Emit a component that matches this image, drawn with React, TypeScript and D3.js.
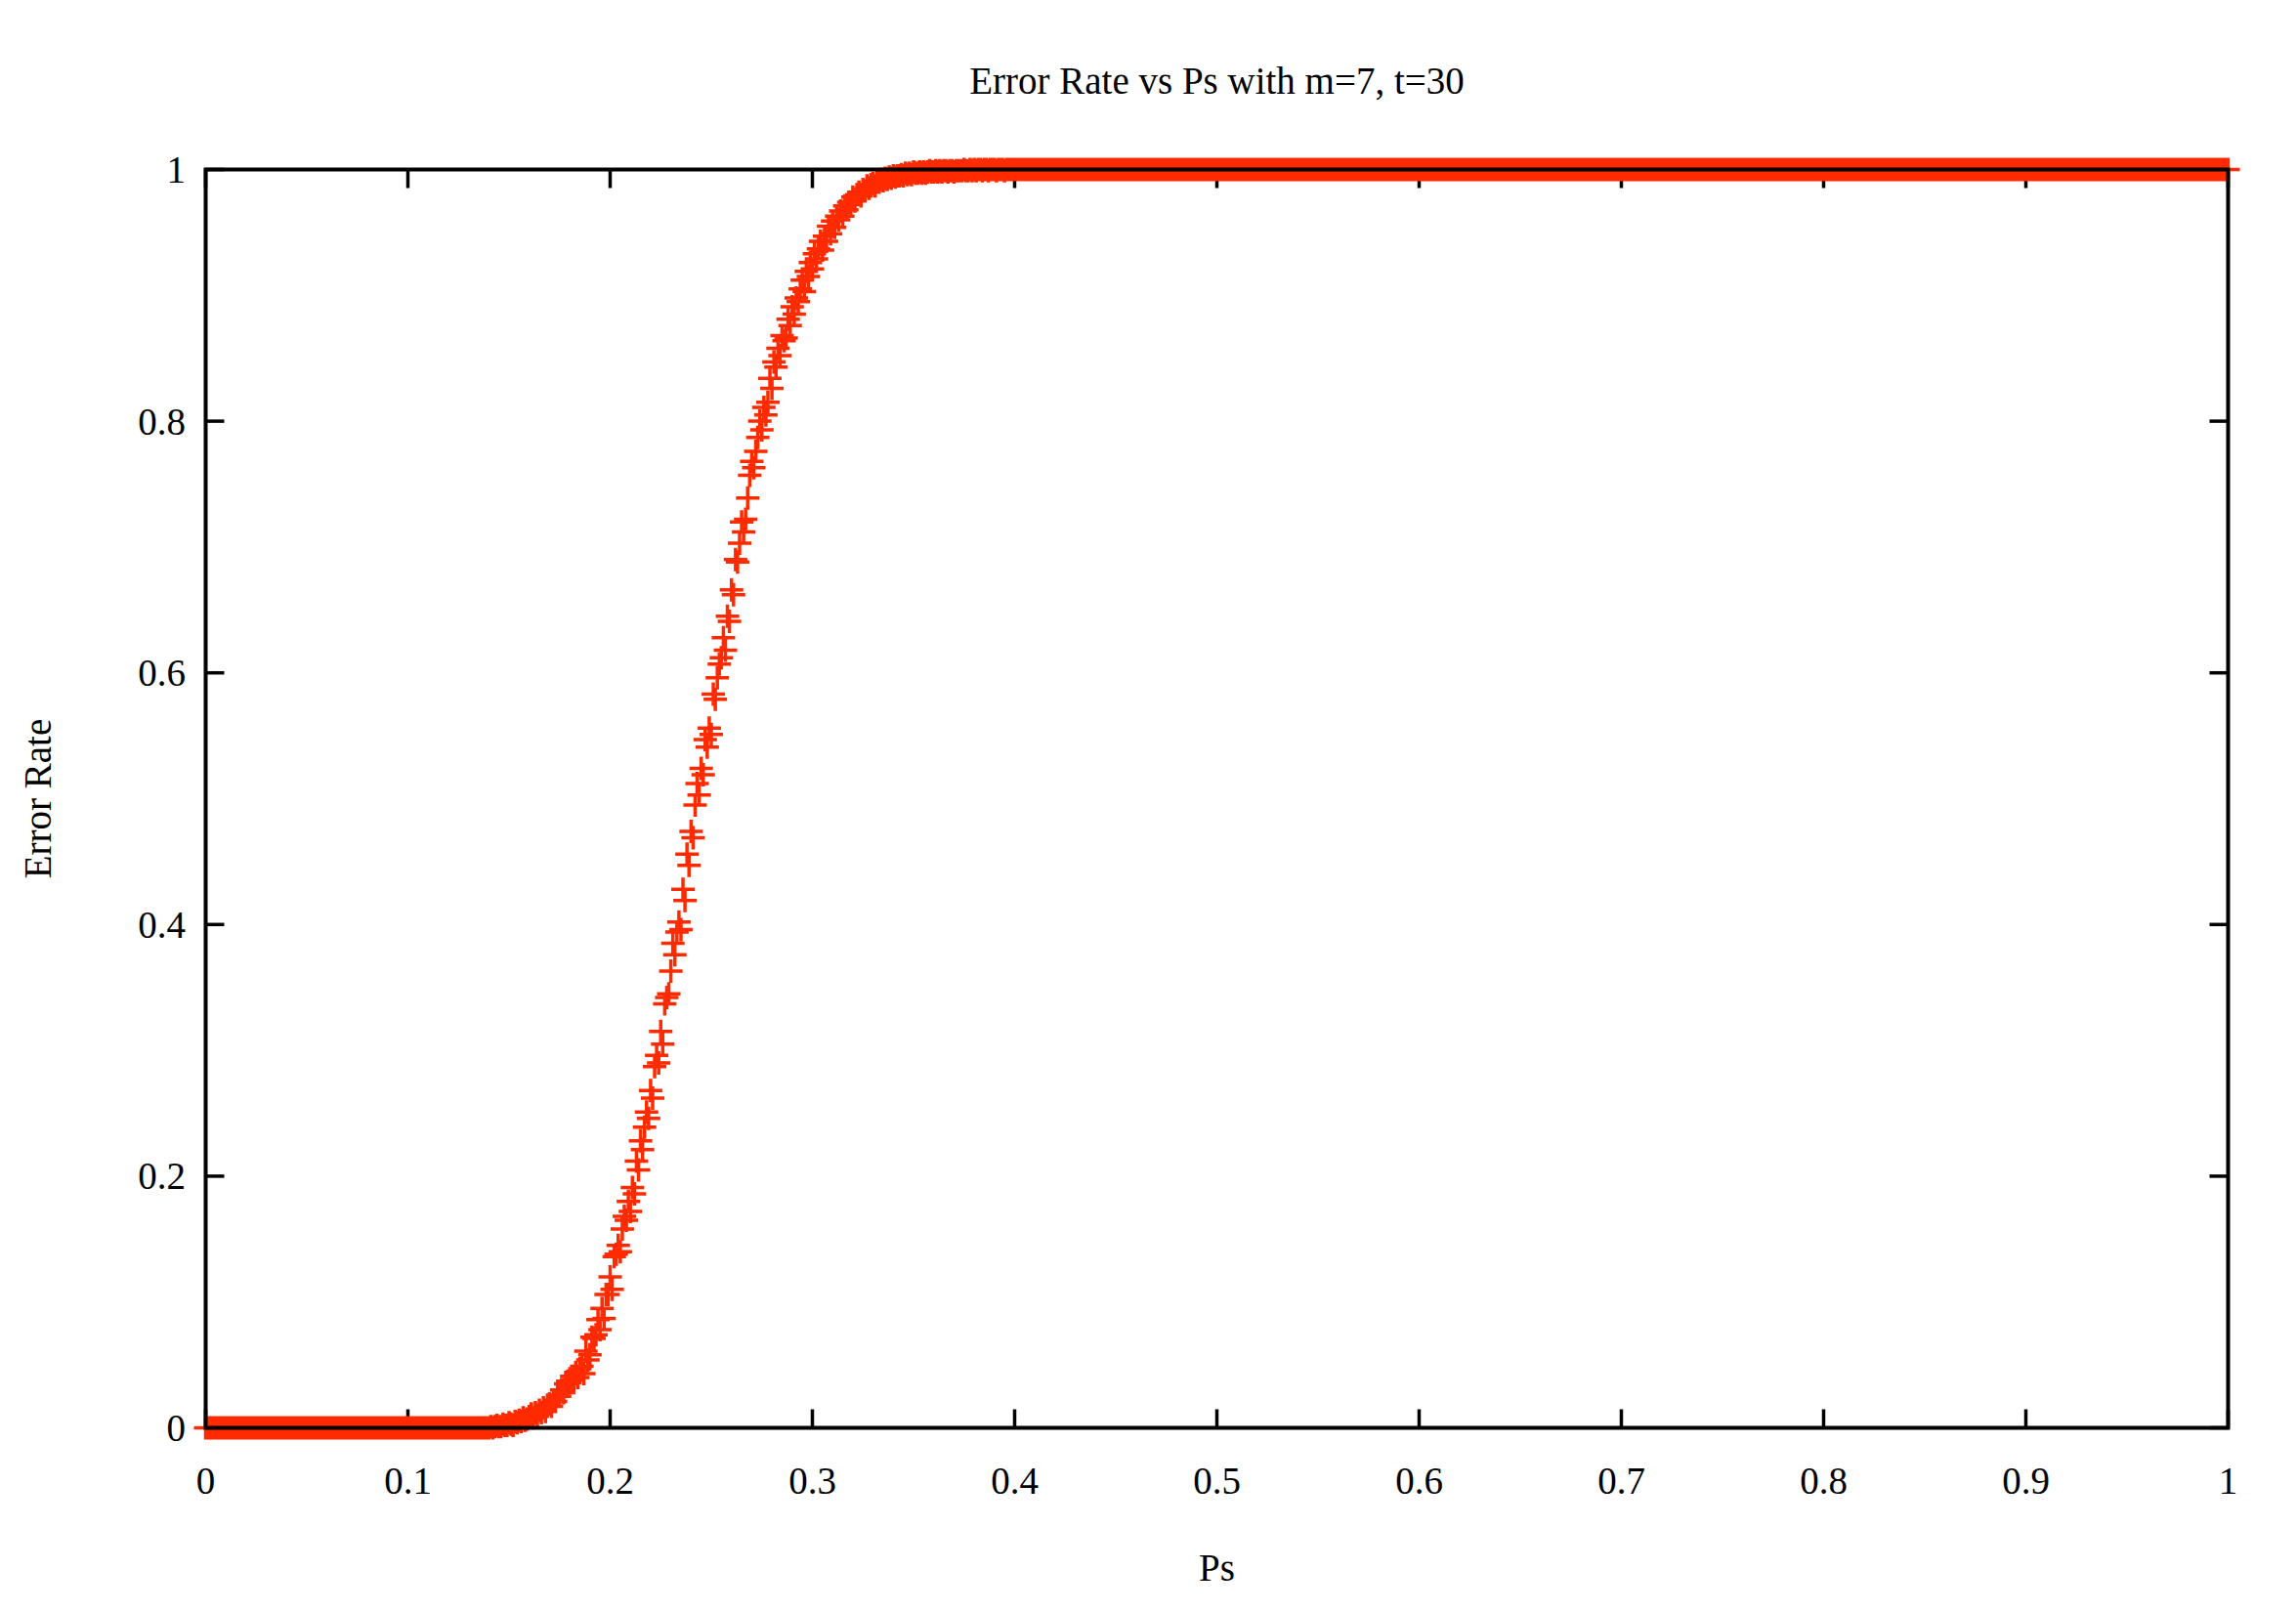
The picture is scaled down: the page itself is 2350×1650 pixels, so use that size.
import React from "react";
import * as d3 from "d3";

// ---- Data ----
const titleText = "Error Rate vs Ps with m=7, t=30";
const xLabel = "Ps";
const yLabel = "Error Rate";
const xTicks = [0, 0.1, 0.2, 0.3, 0.4, 0.5, 0.6, 0.7, 0.8, 0.9, 1];
const yTicks = [0, 0.2, 0.4, 0.6, 0.8, 1];

// Ps is sampled on a regular grid of 0.001 from 0 to 1
const psStep = 0.001;

// Error rate for Ps = 0.000 .. 0.139 (140 samples)
const errLow = [
  0,0,0,0,0,0,0,0,0,0,0,0,0,0,0,0,0,0,0,0,
  0,0,0,0,0,0,0,0,0,0,0,0,0,0,0,0,0,0,0,0,
  0,0,0,0,0,0,0,0,0,0,0,0,0,0,0,0,0,0,0,0,
  0,0,0,0,0,0,0,0,0,0,0,0,0,0,0,0,0,0,0,0,
  0,0,0,0,0,0,0,0,0,0,0,0,0,0,0,0,0,0,0,0,
  0,0,0,0,0,0,0,0,0,0,0,0,0,0,0,0,0,0,0,0,
  0,0,0,0,0,0,0,0,0,0,0,0,0,0,0,0,0,0,0,0,
];

// Error rate for Ps = 0.140 .. 0.400 (261 samples)
const errTransition = [
  0, 0.001, 0, 0.001, 0.002, 0.001, 0.001, 0.003, 0.002, 0.002,
  0.004, 0.003, 0.002, 0.005, 0.004, 0.006, 0.005, 0.008, 0.006, 0.007,
  0.009, 0.011, 0.008, 0.012, 0.010, 0.014, 0.012, 0.016, 0.013, 0.017,
  0.019, 0.017, 0.022, 0.021, 0.026, 0.025, 0.030, 0.028, 0.035, 0.037,
  0.036, 0.041, 0.038,
  0.044, 0.040, 0.047, 0.049, 0.043, 0.061, 0.054, 0.058, 0.072, 0.071,
  0.074, 0.086, 0.078, 0.095, 0.087, 0.106, 0.106, 0.120, 0.110, 0.136,
  0.138, 0.145, 0.140, 0.158, 0.168, 0.165, 0.180, 0.172, 0.191, 0.186,
  0.212, 0.205, 0.228, 0.221, 0.239, 0.251, 0.246, 0.268, 0.262, 0.287,
  0.296, 0.290, 0.315, 0.305, 0.337, 0.342, 0.345, 0.363, 0.385, 0.376,
  0.394, 0.402, 0.396, 0.428, 0.419, 0.456, 0.447, 0.474, 0.469, 0.495,
  0.512, 0.503, 0.524, 0.519, 0.547, 0.541, 0.556, 0.551, 0.583, 0.579,
  0.596, 0.607, 0.612, 0.628, 0.618, 0.645, 0.641, 0.666, 0.662, 0.690,
  0.688, 0.703, 0.720, 0.712, 0.722, 0.739, 0.757, 0.768, 0.763, 0.776,
  0.787, 0.800, 0.793, 0.811, 0.805, 0.815, 0.834, 0.826, 0.847, 0.843,
  0.858, 0.852, 0.868, 0.864, 0.866, 0.881, 0.876, 0.891, 0.885, 0.898,
  0.895, 0.905, 0.912, 0.903, 0.919, 0.915, 0.926, 0.921, 0.933, 0.929,
  0.937, 0.943, 0.936, 0.947, 0.943, 0.955, 0.949, 0.959, 0.954, 0.963,
  0.960, 0.967, 0.963, 0.971, 0.968, 0.974, 0.972, 0.978, 0.975, 0.980,
  0.982, 0.979, 0.984, 0.983, 0.987, 0.985, 0.988, 0.989, 0.987, 0.990,
  0.990, 0.992, 0.991, 0.993, 0.992, 0.994, 0.993, 0.995, 0.994, 0.995,
  0.995, 0.996, 0.995, 0.997, 0.996, 0.997, 0.996, 0.998, 0.997, 0.997,
  0.998, 0.997, 0.998, 0.997, 0.998, 0.999, 0.998, 0.998, 0.999, 0.998,
  0.999, 0.998, 0.999, 0.999, 0.998, 0.999, 0.999, 0.998, 0.999, 0.999,
  0.999, 0.999, 1, 0.999, 0.999, 1, 0.999, 1, 0.999, 1,
  1, 0.999, 1, 1, 0.999, 1, 1, 1, 0.999, 1,
  1, 1, 0.999, 1, 1, 1, 1, 1,
];

// Error rate for Ps = 0.401 .. 1.000 (600 samples)
const errHigh = [
  1,1,1,1,1,1,1,1,1,1,1,1,1,1,1,1,1,1,1,1,
  1,1,1,1,1,1,1,1,1,1,1,1,1,1,1,1,1,1,1,1,
  1,1,1,1,1,1,1,1,1,1,1,1,1,1,1,1,1,1,1,1,
  1,1,1,1,1,1,1,1,1,1,1,1,1,1,1,1,1,1,1,1,
  1,1,1,1,1,1,1,1,1,1,1,1,1,1,1,1,1,1,1,1,
  1,1,1,1,1,1,1,1,1,1,1,1,1,1,1,1,1,1,1,1,
  1,1,1,1,1,1,1,1,1,1,1,1,1,1,1,1,1,1,1,1,
  1,1,1,1,1,1,1,1,1,1,1,1,1,1,1,1,1,1,1,1,
  1,1,1,1,1,1,1,1,1,1,1,1,1,1,1,1,1,1,1,1,
  1,1,1,1,1,1,1,1,1,1,1,1,1,1,1,1,1,1,1,1,
  1,1,1,1,1,1,1,1,1,1,1,1,1,1,1,1,1,1,1,1,
  1,1,1,1,1,1,1,1,1,1,1,1,1,1,1,1,1,1,1,1,
  1,1,1,1,1,1,1,1,1,1,1,1,1,1,1,1,1,1,1,1,
  1,1,1,1,1,1,1,1,1,1,1,1,1,1,1,1,1,1,1,1,
  1,1,1,1,1,1,1,1,1,1,1,1,1,1,1,1,1,1,1,1,
  1,1,1,1,1,1,1,1,1,1,1,1,1,1,1,1,1,1,1,1,
  1,1,1,1,1,1,1,1,1,1,1,1,1,1,1,1,1,1,1,1,
  1,1,1,1,1,1,1,1,1,1,1,1,1,1,1,1,1,1,1,1,
  1,1,1,1,1,1,1,1,1,1,1,1,1,1,1,1,1,1,1,1,
  1,1,1,1,1,1,1,1,1,1,1,1,1,1,1,1,1,1,1,1,
  1,1,1,1,1,1,1,1,1,1,1,1,1,1,1,1,1,1,1,1,
  1,1,1,1,1,1,1,1,1,1,1,1,1,1,1,1,1,1,1,1,
  1,1,1,1,1,1,1,1,1,1,1,1,1,1,1,1,1,1,1,1,
  1,1,1,1,1,1,1,1,1,1,1,1,1,1,1,1,1,1,1,1,
  1,1,1,1,1,1,1,1,1,1,1,1,1,1,1,1,1,1,1,1,
  1,1,1,1,1,1,1,1,1,1,1,1,1,1,1,1,1,1,1,1,
  1,1,1,1,1,1,1,1,1,1,1,1,1,1,1,1,1,1,1,1,
  1,1,1,1,1,1,1,1,1,1,1,1,1,1,1,1,1,1,1,1,
  1,1,1,1,1,1,1,1,1,1,1,1,1,1,1,1,1,1,1,1,
  1,1,1,1,1,1,1,1,1,1,1,1,1,1,1,1,1,1,1,1,
];

// ---- Layout ----
const W = 2350;
const H = 1650;
const M = { left: 210.5, right: 2280.5, top: 173.5, bottom: 1461.5 };
const FONT = "'Liberation Serif', 'Times New Roman', serif";
const FS = 39;
const RED = "#ff2a00";
const ARM = 12;
const TICK = 19;

export default function App() {
  const errorRate = [...errLow, ...errTransition, ...errHigh];
  const data = errorRate.map((e, i) => ({ ps: i * psStep, err: e }));

  const x = d3.scaleLinear().domain([0, 1]).range([M.left, M.right]);
  const y = d3.scaleLinear().domain([0, 1]).range([M.bottom, M.top]);

  const markers = data
    .map((d) => {
      const px = x(d.ps);
      const py = y(d.err);
      return `M${px - ARM},${py}h${2 * ARM}M${px},${py - ARM}v${2 * ARM}`;
    })
    .join("");

  return (
    <svg
      width={W}
      height={H}
      style={{ position: "absolute", left: 0, top: 0, background: "#fff" }}
      fontFamily={FONT}
    >
      <rect x={0} y={0} width={W} height={H} fill="#fff" />
      {/* ticks (drawn beneath the points) */}
      <g stroke="#000" strokeWidth={3.5}>
        {xTicks.map((t) => (
          <g key={"xt" + t}>
            <line x1={x(t)} x2={x(t)} y1={M.bottom} y2={M.bottom - TICK} />
            <line x1={x(t)} x2={x(t)} y1={M.top} y2={M.top + TICK} />
          </g>
        ))}
        {yTicks.map((t) => (
          <g key={"yt" + t}>
            <line x1={M.left} x2={M.left + TICK} y1={y(t)} y2={y(t)} />
            <line x1={M.right} x2={M.right - TICK} y1={y(t)} y2={y(t)} />
          </g>
        ))}
      </g>
      {/* data points */}
      <path d={markers} stroke={RED} strokeWidth={3.5} fill="none" />
      {/* border */}
      <rect
        x={M.left}
        y={M.top}
        width={M.right - M.left}
        height={M.bottom - M.top}
        fill="none"
        stroke="#000"
        strokeWidth={4}
      />
      {/* tick labels */}
      <g fontSize={FS} fill="#000">
        {xTicks.map((t) => (
          <text key={"xl" + t} x={x(t)} y={1529} textAnchor="middle">
            {d3.format("~g")(t)}
          </text>
        ))}
        {yTicks.map((t) => (
          <text
            key={"yl" + t}
            x={190}
            y={y(t)}
            textAnchor="end"
            dominantBaseline="central"
          >
            {d3.format("~g")(t)}
          </text>
        ))}
      </g>
      {/* title and axis labels */}
      <text x={(M.left + M.right) / 2} y={96} textAnchor="middle" fontSize={FS}>
        {titleText}
      </text>
      <text x={(M.left + M.right) / 2} y={1618} textAnchor="middle" fontSize={FS}>
        {xLabel}
      </text>
      <text
        transform={`translate(52,${(M.top + M.bottom) / 2}) rotate(-90)`}
        textAnchor="middle"
        fontSize={FS}
      >
        {yLabel}
      </text>
    </svg>
  );
}
